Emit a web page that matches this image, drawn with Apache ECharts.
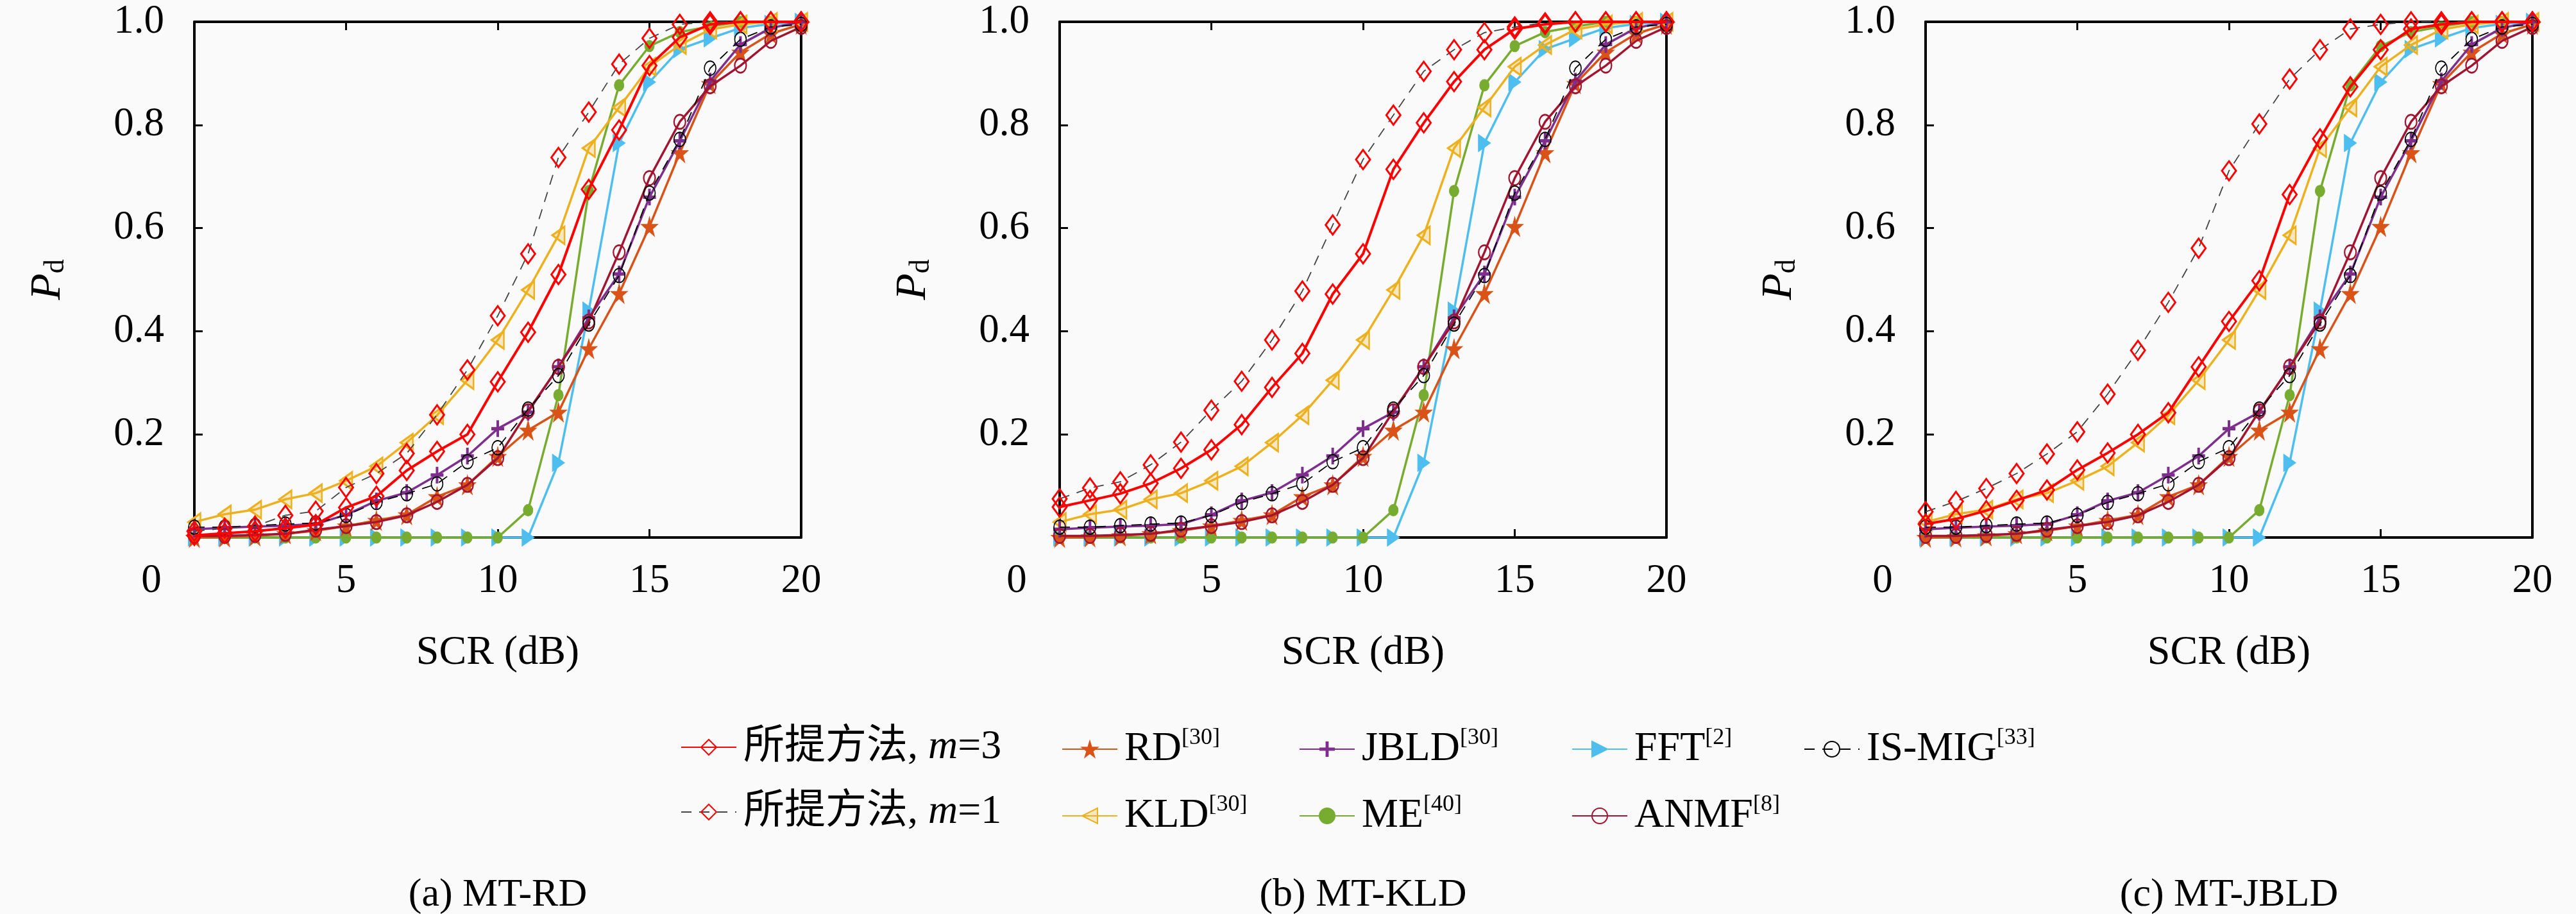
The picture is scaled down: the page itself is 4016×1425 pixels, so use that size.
<!DOCTYPE html>
<html>
<head>
<meta charset="utf-8">
<script src="https://cdn.jsdelivr.net/npm/echarts@6/dist/echarts.min.js"></script>
<style>
  html, body { margin: 0; padding: 0; background: #fafafa; }
  #pd { width: 4016px; height: 1425px; }
</style>
</head>
<body>
<div id="pd"></div>
<script>
// SCR (dB) sample points
const snr = [0, 1, 2, 3, 4, 5, 6, 7, 8, 9, 10, 11, 12, 13, 14, 15, 16, 17, 18, 19, 20];

// proposed method, per panel
const propA3 = [0.004, 0.008, 0.012, 0.018, 0.025, 0.058, 0.08, 0.13, 0.167, 0.2, 0.302, 0.398, 0.51, 0.675, 0.79, 0.915, 0.97, 0.995, 1, 1, 1];
const propA1 = [0.012, 0.018, 0.022, 0.043, 0.051, 0.097, 0.124, 0.163, 0.238, 0.325, 0.43, 0.55, 0.737, 0.825, 0.918, 0.968, 0.995, 1, 1, 1, 1];
const propB3 = [0.059, 0.072, 0.085, 0.105, 0.134, 0.17, 0.219, 0.291, 0.357, 0.472, 0.55, 0.714, 0.804, 0.884, 0.946, 0.986, 0.995, 1, 1, 1, 1];
const propB1 = [0.075, 0.096, 0.108, 0.141, 0.185, 0.247, 0.303, 0.383, 0.478, 0.606, 0.733, 0.819, 0.904, 0.946, 0.979, 0.99, 0.998, 1, 1, 1, 1];
const propC3 = [0.026, 0.036, 0.052, 0.072, 0.092, 0.131, 0.164, 0.2, 0.242, 0.331, 0.419, 0.498, 0.665, 0.773, 0.874, 0.946, 0.986, 0.995, 1, 1, 1];
const propC1 = [0.05, 0.07, 0.095, 0.124, 0.162, 0.205, 0.278, 0.363, 0.456, 0.561, 0.711, 0.802, 0.889, 0.946, 0.986, 0.995, 1, 1, 1, 1, 1];

// reference detectors (same in all three panels)
const rdPd = [0, 0.001, 0.003, 0.007, 0.013, 0.022, 0.033, 0.044, 0.079, 0.102, 0.157, 0.208, 0.243, 0.366, 0.473, 0.603, 0.746, 0.88, 0.941, 0.977, 0.995];
const kldPd = [0.03, 0.045, 0.054, 0.074, 0.086, 0.11, 0.138, 0.184, 0.237, 0.305, 0.383, 0.48, 0.586, 0.755, 0.834, 0.913, 0.955, 0.985, 0.995, 1, 1];
const jbldPd = [0.016, 0.019, 0.021, 0.023, 0.026, 0.044, 0.071, 0.087, 0.121, 0.158, 0.211, 0.243, 0.331, 0.426, 0.511, 0.66, 0.769, 0.885, 0.956, 0.988, 1];
const mePd = [0, 0, 0, 0, 0, 0, 0, 0, 0, 0, 0, 0.053, 0.276, 0.672, 0.877, 0.953, 0.98, 0.991, 1, 1, 1];
const fftPd = [0, 0, 0, 0, 0, 0, 0, 0, 0, 0, 0, 0, 0.145, 0.44, 0.765, 0.883, 0.947, 0.968, 0.988, 0.996, 1];
const anmfPd = [0.003, 0.003, 0.005, 0.007, 0.015, 0.022, 0.03, 0.043, 0.069, 0.102, 0.154, 0.245, 0.331, 0.419, 0.553, 0.697, 0.806, 0.875, 0.915, 0.963, 0.99];
const ismigPd = [0.02, 0.02, 0.023, 0.026, 0.028, 0.043, 0.068, 0.085, 0.104, 0.147, 0.174, 0.249, 0.314, 0.414, 0.508, 0.668, 0.772, 0.91, 0.966, 0.99, 0.995];

const captions = ['(a) MT-RD', '(b) MT-KLD', '(c) MT-JBLD'];

!(function (window) {
    const { echarts } = window;
    const chart = echarts.init(document.getElementById('pd'));
    const FONT = "'Liberation Serif', 'Noto Sans CJK SC', serif";

    const panelLeft = [303, 1652, 3002];
    const panelW = 946;
    const panelTop = 34;
    const panelH = 804;

    const STAR = 'path://M50,0 L61,35 L98,35 L68,57 L79,91 L50,70 L21,91 L32,57 L2,35 L39,35 Z';
    const PLUS = 'path://M4,0 H6 V4 H10 V6 H6 V10 H4 V6 H0 V4 H4 Z';
    const TRI_R = 'path://M0,0 L10,5 L0,10 Z';
    const TRI_L = 'path://M10,0 L0,5 L10,10 Z';

    const N3 = '所提方法, m=3';
    const N1 = '所提方法, m=1';

    const legendText = {
        [N3]: '{b|所提方法, }{i|m}{b|=3}',
        [N1]: '{b|所提方法, }{i|m}{b|=1}',
        RD: '{b|RD}{s|[30]}',
        KLD: '{b|KLD}{s|[30]}',
        JBLD: '{b|JBLD}{s|[30]}',
        ME: '{b|ME}{s|[40]}',
        FFT: '{b|FFT}{s|[2]}',
        ANMF: '{b|ANMF}{s|[8]}',
        'IS-MIG': '{b|IS-MIG}{s|[33]}',
    };

    // style of each curve
    const styles = {
        [N3]: {
            symbol: 'diamond', symbolSize: [22, 30],
            lineStyle: { color: '#ff0000', width: 4 },
            itemStyle: { color: 'rgba(255,255,255,0)', borderColor: '#ff0000', borderWidth: 3 },
            z: 20,
        },
        [N1]: {
            symbol: 'diamond', symbolSize: [22, 30],
            lineStyle: { color: '#444', width: 1.8, type: [16, 12] },
            itemStyle: { color: 'rgba(255,255,255,0)', borderColor: '#ff0000', borderWidth: 3 },
            z: 19,
        },
        RD: {
            symbol: STAR, symbolSize: [26, 30],
            lineStyle: { color: '#D95319', width: 3.5 },
            itemStyle: { color: '#D95319', borderColor: '#D95319', borderWidth: 1 },
            z: 12,
        },
        KLD: {
            symbol: TRI_L, symbolSize: [19, 27],
            lineStyle: { color: '#EDB120', width: 3.5 },
            itemStyle: { color: 'rgba(237,177,32,0.25)', borderColor: '#EDB120', borderWidth: 3 },
            z: 13,
        },
        JBLD: {
            symbol: PLUS, symbolSize: [20, 26],
            lineStyle: { color: '#7E2F8E', width: 3.5 },
            itemStyle: { color: '#7E2F8E', borderColor: '#7E2F8E', borderWidth: 0 },
            z: 14,
        },
        ME: {
            symbol: 'circle', symbolSize: [15, 18],
            lineStyle: { color: '#77AC30', width: 3.5 },
            itemStyle: { color: '#77AC30', borderColor: '#77AC30', borderWidth: 1 },
            z: 11,
        },
        FFT: {
            symbol: TRI_R, symbolSize: [19, 27],
            lineStyle: { color: '#4DBEEE', width: 3.5 },
            itemStyle: { color: '#4DBEEE', borderColor: '#4DBEEE', borderWidth: 1 },
            z: 10,
        },
        ANMF: {
            symbol: 'circle', symbolSize: [18, 22],
            lineStyle: { color: '#A2142F', width: 3.5 },
            itemStyle: { color: 'rgba(255,255,255,0)', borderColor: '#A2142F', borderWidth: 2.5 },
            z: 15,
        },
        'IS-MIG': {
            symbol: 'circle', symbolSize: [18, 22],
            lineStyle: { color: '#000', width: 1.8, type: [16, 12] },
            itemStyle: { color: 'rgba(255,255,255,0)', borderColor: '#000', borderWidth: 1.8 },
            z: 16,
        },
    };

    const panelData = [
        { [N3]: propA3, [N1]: propA1 },
        { [N3]: propB3, [N1]: propB1 },
        { [N3]: propC3, [N1]: propC1 },
    ];
    const shared = {
        RD: rdPd, KLD: kldPd, JBLD: jbldPd, ME: mePd,
        FFT: fftPd, ANMF: anmfPd, 'IS-MIG': ismigPd,
    };
    const order = [N3, N1, 'RD', 'KLD', 'JBLD', 'ME', 'FFT', 'ANMF', 'IS-MIG'];

    const grid = [];
    const xAxis = [];
    const yAxis = [];
    const series = [];
    const graphic = [];

    const frameLine = { show: true, onZero: false, lineStyle: { color: '#000', width: 4 } };
    const tick = { show: true, inside: true, length: 13, lineStyle: { color: '#000', width: 3 } };

    panelLeft.forEach((left, gi) => {
        grid.push({ left, top: panelTop, width: panelW, height: panelH });

        xAxis.push({
            gridIndex: gi, type: 'value', min: 0, max: 20, interval: 5, position: 'bottom',
            axisLine: frameLine, axisTick: tick, splitLine: { show: false },
            axisLabel: {
                margin: 37, color: '#000', fontSize: 63, fontFamily: FONT,
                formatter: v => (v === 0 ? '{z|0}' : String(v)),
                rich: { z: { fontSize: 63, fontFamily: FONT, color: '#000', padding: [0, 134, 0, 0] } },
            },
            name: 'SCR (dB)', nameLocation: 'middle', nameGap: 148,
            nameTextStyle: { color: '#000', fontSize: 64, fontFamily: FONT },
        });
        xAxis.push({
            gridIndex: gi, type: 'value', min: 0, max: 20, interval: 5, position: 'top',
            axisLine: frameLine, axisTick: tick, axisLabel: { show: false }, splitLine: { show: false },
        });

        yAxis.push({
            gridIndex: gi, type: 'value', min: 0, max: 1, interval: 0.2, position: 'left',
            axisLine: frameLine, axisTick: tick, splitLine: { show: false },
            axisLabel: {
                margin: 47, color: '#000', fontSize: 63, fontFamily: FONT,
                formatter: v => (v === 0 ? '' : v.toFixed(1)),
            },
            name: '{p|P}{d|d}', nameLocation: 'middle', nameRotate: 90, nameGap: 194,
            nameTextStyle: {
                rich: {
                    p: { fontSize: 68, fontStyle: 'italic', fontFamily: FONT, color: '#000' },
                    d: { fontSize: 44, fontFamily: FONT, color: '#000', verticalAlign: 'bottom', padding: [22, 0, 0, 0] },
                },
            },
        });
        yAxis.push({
            gridIndex: gi, type: 'value', min: 0, max: 1, interval: 0.2, position: 'right',
            axisLine: frameLine, axisTick: { show: false }, axisLabel: { show: false }, splitLine: { show: false },
        });

        order.forEach(name => {
            const vals = panelData[gi][name] || shared[name];
            const st = styles[name];
            series.push({
                type: 'line',
                name,
                xAxisIndex: gi * 2,
                yAxisIndex: gi * 2,
                data: snr.map((x, k) => [x, vals[k]]),
                symbol: st.symbol,
                symbolSize: st.symbolSize,
                showAllSymbol: true,
                lineStyle: st.lineStyle,
                itemStyle: st.itemStyle,
                z: st.z,
                clip: false,
                animation: false,
                emphasis: { disabled: true },
            });
        });

        graphic.push({
            type: 'text',
            x: left + panelW / 2,
            y: 1396,
            style: {
                text: captions[gi],
                font: `62px ${FONT}`,
                fill: '#000',
                align: 'center',
                verticalAlign: 'middle',
            },
        });
    });

    // legend laid out as columns so that the rows line up
    const legendCols = [
        { left: 1056, data: [N3, N1] },
        { left: 1650, data: ['RD', 'KLD'] },
        { left: 2020, data: ['JBLD', 'ME'] },
        { left: 2445, data: ['FFT', 'ANMF'] },
        { left: 2807, data: ['IS-MIG'] },
    ];
    const legend = legendCols.map(col => ({
        orient: 'vertical',
        left: col.left,
        top: 1128,
        data: col.data,
        itemWidth: 86,
        itemHeight: 30,
        itemGap: 37,
        selectedMode: false,
        formatter: n => legendText[n],
        textStyle: {
            color: '#000',
            fontFamily: FONT,
            padding: [0, 0, 0, 6],
            rich: {
                b: { fontSize: 64, lineHeight: 70, fontFamily: FONT, color: '#000' },
                i: { fontSize: 64, lineHeight: 70, fontStyle: 'italic', fontFamily: FONT, color: '#000' },
                s: { fontSize: 36, lineHeight: 36, fontFamily: FONT, color: '#000', verticalAlign: 'top' },
            },
        },
    }));

    chart.setOption({
        backgroundColor: '#fafafa',
        animation: false,
        grid,
        xAxis,
        yAxis,
        legend,
        series,
        graphic,
    });
}(window));
</script>
</body>
</html>
